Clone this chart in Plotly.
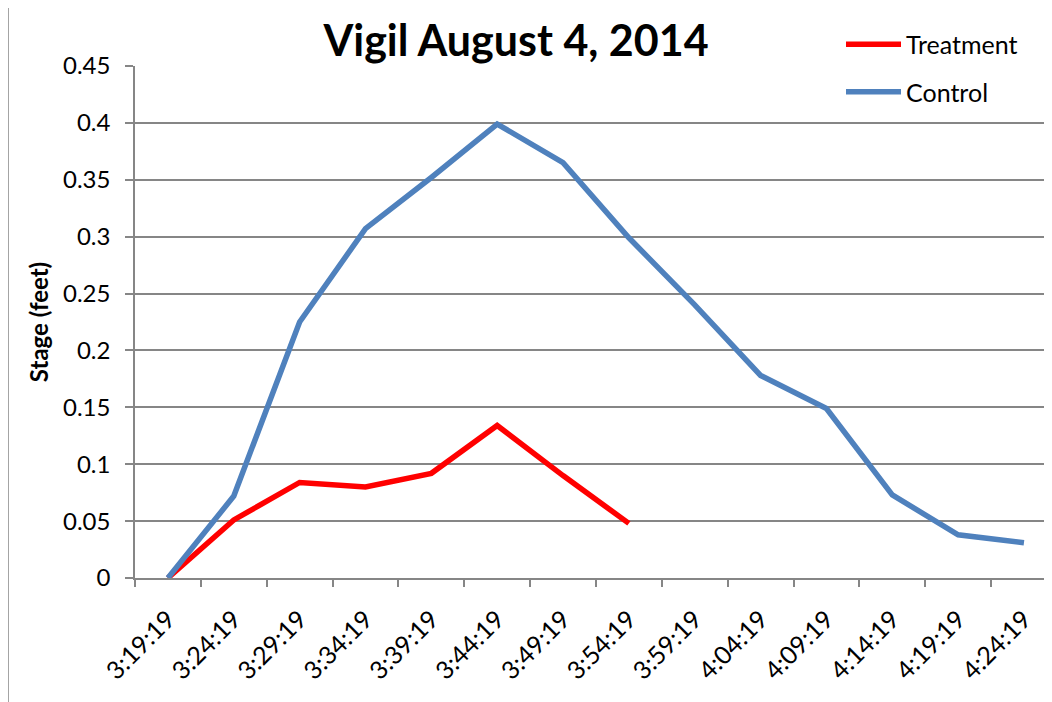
import plotly.graph_objects as go

times = ["3:19:19", "3:24:19", "3:29:19", "3:34:19", "3:39:19", "3:44:19", "3:49:19",
         "3:54:19", "3:59:19", "4:04:19", "4:09:19", "4:14:19", "4:19:19", "4:24:19"]
treatment = [0.0, 0.051, 0.084, 0.080, 0.092, 0.134, 0.090, 0.048]
control = [0.0, 0.072, 0.225, 0.307, 0.352, 0.399, 0.365, 0.299, 0.240, 0.178,
           0.149, 0.073, 0.038, 0.031]
y_ticks = [0, 0.05, 0.1, 0.15, 0.2, 0.25, 0.3, 0.35, 0.4, 0.45]
y_ticktext = ["0", "0.05", "0.1", "0.15", "0.2", "0.25", "0.3", "0.35", "0.4", "0.45"]

FONT = "Lato"

fig = go.Figure()
fig.add_trace(go.Scatter(x=times[:len(treatment)], y=treatment, mode="lines", name="Treatment",
                         line=dict(color="#FF0000", width=5.5), legendgroup="t"))
fig.add_trace(go.Scatter(x=times, y=control, mode="lines", name="Control",
                         line=dict(color="#4F81BD", width=5.5), legendgroup="c"))

OFF = 8  # page body margin
W, H = 1052 - OFF, 702 - OFF
L = 135 - OFF
T = 66 - OFF
B = H - (578 - OFF)
pw = W - L
ph = H - T - B

fig.update_layout(
    width=W, height=H,
    margin=dict(l=L, r=0, t=T, b=B, autoexpand=False),
    paper_bgcolor="white", plot_bgcolor="white",
    font=dict(family=FONT, color="black"),
    title=dict(text="<b>Vigil August 4, 2014</b>", x=(516 - OFF) / W, xanchor="center",
               y=1 - (41 - OFF) / H, yanchor="middle", font=dict(size=43, family=FONT)),
    legend=dict(x=(841 - 135) / pw, y=1 + (66 - 21.5) / ph, xanchor="left", yanchor="top",
                font=dict(size=25, family=FONT), itemwidth=55, tracegroupgap=12,
                traceorder="grouped", bgcolor="rgba(0,0,0,0)"),
    showlegend=True,
)
fig.update_xaxes(
    type="category", categoryorder="array", categoryarray=times,
    range=[-0.5, -0.5 + pw / 65.85], automargin=False,
    tickson="boundaries", ticks="outside", ticklen=7, tickcolor="#868686", tickwidth=1.5,
    ticklabelstandoff=15,
    showline=True, linecolor="#868686", linewidth=1.5,
    showgrid=False, tickangle=-45, tickfont=dict(size=25, family=FONT),
)
fig.update_yaxes(
    range=[0, 0.45], tickvals=y_ticks, ticktext=y_ticktext, automargin=False,
    ticks="outside", ticklen=8, tickcolor="#868686", tickwidth=1.5,
    ticklabelstandoff=10,
    showline=True, linecolor="#868686", linewidth=1.5,
    showgrid=True, gridcolor="#868686", gridwidth=1.5, zeroline=False,
    tickfont=dict(size=24, family=FONT),
    title=dict(text="<b>Stage (feet)</b>", font=dict(size=24, family=FONT), standoff=8),
)
# outer chart border
fig.add_shape(type="rect", xref="paper", yref="paper",
              x0=(8 - 135) / pw, x1=1.02, y0=-(H + 10 - (T + ph)) / ph, y1=1 + (66 - 7) / ph,
              line=dict(color="#868686", width=1.5), fillcolor="rgba(0,0,0,0)", layer="below")

fig.write_html("out.html")
